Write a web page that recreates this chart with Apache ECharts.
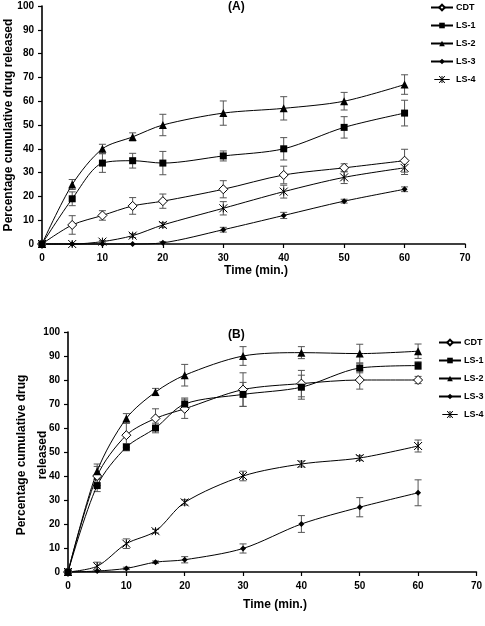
<!DOCTYPE html>
<html>
<head>
<meta charset="utf-8">
<script src="https://cdn.jsdelivr.net/npm/echarts@6/dist/echarts.min.js"></script>
<style>
html,body{margin:0;padding:0;background:#fff;}
#chart{width:485px;height:626px;}
</style>
</head>
<body>
<div id="chart"></div>
<script>
const times = [0, 5, 10, 15, 20, 30, 40, 50, 60];
const seriesNames = ['CDT', 'LS-1', 'LS-2', 'LS-3', 'LS-4'];

// Panel A
const aCDT = [0, 8, 12, 16, 18, 23, 29, 32, 35];
const aLS1 = [0, 19, 34, 35, 34, 37, 40, 49, 55];
const aLS2 = [0, 25, 40, 45, 50, 55, 57, 60, 67];
const aLS3 = [0, 0, 0, 0, 0.5, 6, 12, 18, 23];
const aLS4 = [0, 0, 1, 3.5, 8, 15, 22, 28, 32];
const aCDTErr = [0, 3.9, 2, 3.5, 3, 3.6, 3.7, 1.7, 4.8];
const aLS1Err = [0, 2.9, 3.9, 3.1, 4.9, 2.1, 4.7, 4.5, 5.4];
const aLS2Err = [0, 2.1, 1.9, 1.7, 4.5, 5.1, 4.9, 3.7, 4.1];
const aLS3Err = [0, 0, 0, 0, 0.5, 1, 1.3, 0.8, 1];
const aLS4Err = [0, 0, 0.5, 0.8, 1, 2.8, 2.7, 2.6, 2.8];

// Panel B
const bCDT = [0, 40, 57, 64, 68, 76, 78.5, 80, 80];
const bLS1 = [0, 36, 52, 60, 70, 74, 77, 85, 86];
const bLS2 = [0, 42, 64, 75, 82, 90, 91.4, 91, 92];
const bLS3 = [0, 0.4, 1.5, 4.1, 5.1, 9.8, 20, 27, 33];
const bLS4 = [0, 2.4, 11.8, 17, 29, 40, 45, 47.5, 52.5];
const bCDTErr = [0, 4, 5, 4, 4, 7, 5.5, 3.8, 1.5];
const bLS1Err = [0, 2.5, 1.5, 2, 2.5, 5, 5, 2, 1.6];
const bLS2Err = [0, 3, 2, 1.5, 4.5, 3.9, 2.5, 3.9, 3];
const bLS3Err = [0, 0, 0.5, 0.5, 1.3, 1.9, 3.5, 4, 5.4];
const bLS4Err = [0, 1.7, 2, 0.8, 1.1, 2, 1.2, 1, 2.5];

const yTicks = [0, 10, 20, 30, 40, 50, 60, 70, 80, 90, 100];
const xTicks = [0, 10, 20, 30, 40, 50, 60, 70];

const FONT = 'Liberation Sans, Arial, sans-serif';
const asterisk = 'path://M0,0L10,10M10,0L0,10M5,0L5,10';
const asteriskLegend = 'path://M0,5L22,5M7,0L15,10M15,0L7,10M11,0L11,10';

const markerStyles = {
  'CDT':  {symbol: 'diamond', symbolSize: 9, itemStyle: {color: '#fff', borderColor: '#000', borderWidth: 1}},
  'LS-1': {symbol: 'rect', symbolSize: 7, itemStyle: {color: '#000', borderColor: '#000', borderWidth: 0}},
  'LS-2': {symbol: 'triangle', symbolSize: 8, itemStyle: {color: '#000', borderColor: '#000', borderWidth: 0}},
  'LS-3': {symbol: 'diamond', symbolSize: 6, itemStyle: {color: '#000', borderColor: '#000', borderWidth: 0}},
  'LS-4': {symbol: asterisk, symbolSize: 8, itemStyle: {color: 'rgba(0,0,0,0)', borderColor: '#000', borderWidth: 1}}
};

function lineSeries(name, vals, idx) {
  const m = markerStyles[name];
  return {
    type: 'line', name: name, xAxisIndex: idx, yAxisIndex: idx,
    data: times.map((t, i) => [t, vals[i]]),
    smooth: 0.3, clip: false,
    symbol: m.symbol, symbolSize: m.symbolSize, showAllSymbol: true,
    itemStyle: m.itemStyle,
    lineStyle: {color: '#000', width: 1},
    emphasis: {disabled: true}, z: 3
  };
}

function errSeries(vals, errs, idx) {
  const d = [];
  times.forEach((t, i) => { if (errs[i] > 0) d.push([t, vals[i] - errs[i], vals[i] + errs[i]]); });
  return {
    type: 'custom', xAxisIndex: idx, yAxisIndex: idx, data: d, z: 2, clip: false,
    encode: {x: 0, y: [1, 2]},
    renderItem: function (params, api) {
      const x = api.value(0);
      const lo = api.coord([x, api.value(1)]);
      const hi = api.coord([x, api.value(2)]);
      const w = 3.5;
      const st = {stroke: '#555', lineWidth: 1};
      return {type: 'group', children: [
        {type: 'line', shape: {x1: lo[0], y1: lo[1], x2: hi[0], y2: hi[1]}, style: st},
        {type: 'line', shape: {x1: lo[0] - w, y1: lo[1], x2: lo[0] + w, y2: lo[1]}, style: st},
        {type: 'line', shape: {x1: hi[0] - w, y1: hi[1], x2: hi[0] + w, y2: hi[1]}, style: st}
      ]};
    }
  };
}

function xAxis(idx) {
  return {
    type: 'value', gridIndex: idx, min: 0, max: 70, interval: 10, position: 'bottom',
    axisLine: {lineStyle: {color: '#000', width: 1.6}},
    axisTick: {show: true, inside: false, length: 4, lineStyle: {color: '#000', width: 1.2}},
    axisLabel: {show: true, interval: 0, hideOverlap: false, showMinLabel: true, showMaxLabel: true,
      fontFamily: FONT, fontWeight: 'bold', fontSize: 10, color: '#000', margin: 9,
      formatter: v => xTicks.includes(v) ? String(v) : ''},
    splitLine: {show: false}
  };
}
function yAxis(idx) {
  return {
    type: 'value', gridIndex: idx, min: 0, max: 100, interval: 10,
    axisLine: {show: true, lineStyle: {color: '#000', width: 1.6}},
    axisTick: {show: true, inside: false, length: 4, lineStyle: {color: '#000', width: 1.2}},
    axisLabel: {fontFamily: FONT, fontWeight: 'bold', fontSize: 10, color: '#000', margin: 8,
      formatter: v => yTicks.includes(v) ? String(v) : ''},
    splitLine: {show: false}
  };
}

const aVals = [aCDT, aLS1, aLS2, aLS3, aLS4];
const aErrs = [aCDTErr, aLS1Err, aLS2Err, aLS3Err, aLS4Err];
const bVals = [bCDT, bLS1, bLS2, bLS3, bLS4];
const bErrs = [bCDTErr, bLS1Err, bLS2Err, bLS3Err, bLS4Err];

const series = [];
seriesNames.forEach((n, i) => series.push(errSeries(aVals[i], aErrs[i], 0)));
seriesNames.forEach((n, i) => series.push(errSeries(bVals[i], bErrs[i], 1)));
seriesNames.forEach((n, i) => series.push(lineSeries(n, aVals[i], 0)));
seriesNames.forEach((n, i) => series.push(lineSeries(n, bVals[i], 1)));

const legendData = seriesNames.map(n => n === 'LS-4'
  ? {name: n, icon: asteriskLegend, itemStyle: {color: 'rgba(0,0,0,0)', borderColor: '#000', borderWidth: 1}}
  : {name: n});

const legendCommon = {
  orient: 'vertical', data: legendData, itemWidth: 22, itemHeight: 7, itemGap: 9,
  textStyle: {fontFamily: FONT, fontWeight: 'bold', fontSize: 9, color: '#000', padding: [0, 0, 0, -2]},
  selectedMode: false, padding: 0
};

const option = {
  animation: false,
  backgroundColor: '#fff',
  grid: [
    {left: 42, top: 6, width: 423, height: 238, containLabel: false},
    {left: 68, top: 332, width: 412, height: 240, containLabel: false}
  ],
  xAxis: [xAxis(0), xAxis(1)],
  yAxis: [yAxis(0), yAxis(1)],
  legend: [
    Object.assign({left: 430, top: 3}, legendCommon),
    Object.assign({left: 438, top: 338}, legendCommon)
  ],
  graphic: [
    {type: 'text', left: 228, top: 1, style: {text: '(A)', font: 'bold 12px ' + FONT, fill: '#000'}},
    {type: 'text', left: 228, top: 329, style: {text: '(B)', font: 'bold 12px ' + FONT, fill: '#000'}},
    {type: 'text', x: 256, y: 271,
      style: {text: 'Time (min.)', font: 'bold 12px ' + FONT, fill: '#000', align: 'center', verticalAlign: 'middle'}},
    {type: 'text', x: 275, y: 605,
      style: {text: 'Time (min.)', font: 'bold 12px ' + FONT, fill: '#000', align: 'center', verticalAlign: 'middle'}},
    {type: 'text', x: 9, y: 125, rotation: Math.PI / 2,
      style: {text: 'Percentage cumulative drug released', font: 'bold 12px ' + FONT, fill: '#000', align: 'center', verticalAlign: 'middle'}},
    {type: 'text', x: 22, y: 455, rotation: Math.PI / 2,
      style: {text: 'Percentage cumulative drug', font: 'bold 12px ' + FONT, fill: '#000', align: 'center', verticalAlign: 'middle'}},
    {type: 'text', x: 43, y: 455, rotation: Math.PI / 2,
      style: {text: 'released', font: 'bold 12px ' + FONT, fill: '#000', align: 'center', verticalAlign: 'middle'}}
  ],
  series: series
};

const chart = echarts.init(document.getElementById('chart'), null, {renderer: 'canvas'});
chart.setOption(option);
</script>
</body>
</html>
